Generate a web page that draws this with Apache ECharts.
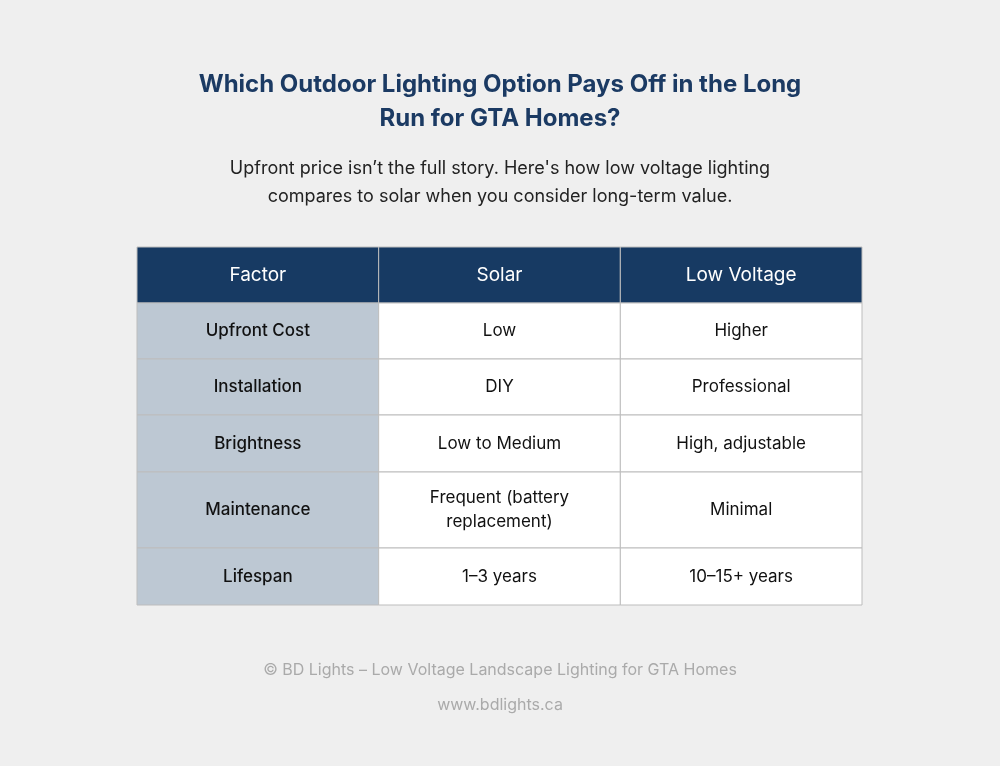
<!DOCTYPE html>
<html><head><meta charset="utf-8">
<script src="https://cdn.jsdelivr.net/npm/echarts@6/dist/echarts.min.js"></script>
<style>html,body{margin:0;background:#efefef}#c{width:1000px;height:766px}</style>
</head><body><div id="c"></div>
<script>
const columns = ['Factor', 'Solar', 'Low Voltage'];
const factors = ['Upfront Cost', 'Installation', 'Brightness', 'Maintenance', 'Lifespan'];
const solar = ['Low', 'DIY', 'Low to Medium', 'Frequent (battery\nreplacement)', '1–3 years'];
const lowVoltage = ['Higher', 'Professional', 'High, adjustable', 'Minimal', '10–15+ years'];
const rowHeights = [56, 56, 56, 57, 76, 57]; // header + rows

const rows = [columns].concat(factors.map((f, i) => [f, solar[i], lowVoltage[i]]));
const data = [];
let y = 0;
rows.forEach((r, ri) => {
  r.forEach((txt, ci) => data.push([ci, y, y + rowHeights[ri], txt, ri]));
  y += rowHeights[ri];
});
const total = y;
const F = 'Inter, "Noto Sans", sans-serif';
const chart = echarts.init(document.getElementById('c'));
chart.setOption({
  backgroundColor: '#efefef',
  title: [
    {text: 'Which Outdoor Lighting Option Pays Off in the Long\nRun for GTA Homes?', left: 'center', top: 63,
     textStyle: {fontFamily: F, fontSize: 24, fontWeight: 'bold', color: '#1b3a63', lineHeight: 34, align: 'center'}},
    {text: "Upfront price isn’t the full story. Here's how low voltage lighting\ncompares to solar when you consider long-term value.", left: 'center', top: 150,
     textStyle: {fontFamily: F, fontSize: 18, fontWeight: 'normal', color: '#222', lineHeight: 28, align: 'center'}},
    {text: '© BD Lights – Low Voltage Landscape Lighting for GTA Homes\n\nwww.bdlights.ca', left: 'center', top: 656,
     textStyle: {fontFamily: F, fontSize: 16, fontWeight: 'normal', color: '#aaa', lineHeight: 17.5, align: 'center'}}
  ],
  grid: {left: 137, right: 138, top: 247, bottom: 161},
  xAxis: {type: 'value', min: 0, max: 3, show: false},
  yAxis: {type: 'value', min: 0, max: total, inverse: true, show: false},
  series: [{
    type: 'custom', data: data,
    encode: {x: 0, y: 1},
    renderItem: function (params, api) {
      const c = api.value(0), ri = api.value(4);
      const p0 = api.coord([c, api.value(1)]);
      const p1 = api.coord([c + 1, api.value(2)]);
      const fill = ri === 0 ? '#173a63' : (c === 0 ? '#bdc8d3' : '#ffffff');
      const txt = data[params.dataIndex][3];
      return {type: 'group', children: [
        {type: 'rect', shape: {x: p0[0], y: p0[1], width: p1[0] - p0[0], height: p1[1] - p0[1]},
         style: {fill: fill, stroke: '#bdbdbd', lineWidth: 1}},
        {type: 'text', x: (p0[0] + p1[0]) / 2, y: (p0[1] + p1[1]) / 2,
         style: {text: txt, align: 'center', verticalAlign: 'middle', fontFamily: F,
                 fontSize: ri === 0 ? 19 : 17, lineHeight: 24, fill: ri === 0 ? '#fff' : '#111',
                 fontWeight: (c === 0 && ri > 0) ? 500 : 'normal'}}
      ]};
    }
  }]
});
</script></body></html>
